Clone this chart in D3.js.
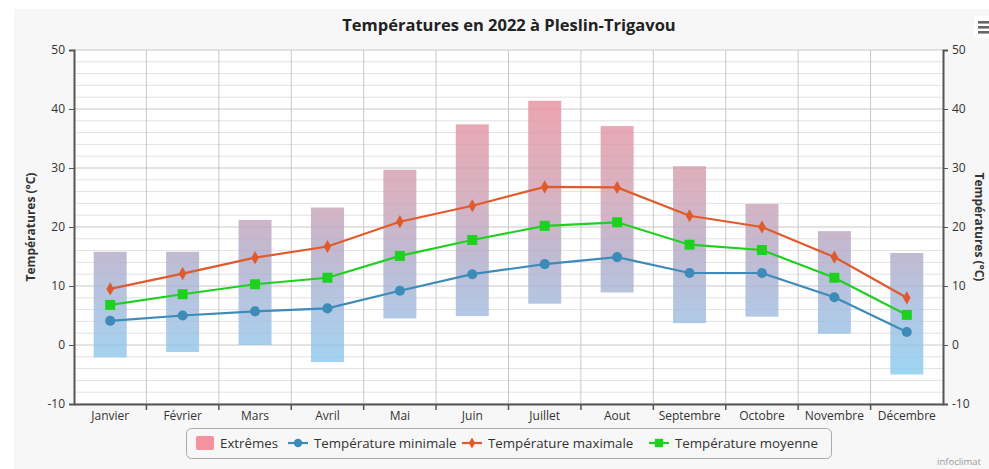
<!DOCTYPE html>
<html>
<head>
<meta charset="utf-8">
<script src="https://cdn.jsdelivr.net/npm/d3@7"></script>
<style>
  body { margin: 0; background: #fff; }
  text { font-family: "Open Sans", "DejaVu Sans", sans-serif; }
</style>
</head>
<body>
<script>
// Data
const months = ["Janvier", "Février", "Mars", "Avril", "Mai", "Juin", "Juillet", "Aout", "Septembre", "Octobre", "Novembre", "Décembre"];
const extremeMax = [15.8, 15.8, 21.2, 23.3, 29.7, 37.4, 41.4, 37.1, 30.3, 23.9, 19.3, 15.6];
const extremeMin = [-2.1, -1.2, 0.0, -2.9, 4.5, 4.9, 7.0, 8.9, 3.7, 4.8, 1.9, -5.0];
const tempMin = [4.1, 5.0, 5.7, 6.2, 9.2, 12.0, 13.7, 14.9, 12.2, 12.2, 8.1, 2.2];
const tempMax = [9.5, 12.1, 14.8, 16.7, 20.9, 23.6, 26.8, 26.7, 21.9, 20.0, 14.9, 8.0];
const tempMoy = [6.8, 8.6, 10.3, 11.4, 15.1, 17.8, 20.2, 20.8, 17.0, 16.1, 11.4, 5.1];
const yTicks = [-10, 0, 10, 20, 30, 40, 50];

const W = 989, H = 469;
const margin = { top: 50, right: 46, bottom: 65, left: 74 };

const svg = d3.select("body").append("svg")
    .attr("width", W)
    .attr("height", H);

// chart background
svg.append("rect").attr("x", 14).attr("y", 9).attr("width", W - 14).attr("height", H - 9)
    .attr("fill", "#f7f7f7");

const x = d3.scaleBand()
    .domain(months)
    .range([margin.left, W - margin.right]);

const y = d3.scaleLinear()
    .domain([-10, 50])
    .range([H - margin.bottom, margin.top]);

// plot area
svg.append("rect")
    .attr("x", margin.left).attr("y", margin.top)
    .attr("width", x.range()[1] - margin.left)
    .attr("height", y(-10) - y(50))
    .attr("fill", "#fff");

// gradient for extremes, tied to temperature
const defs = svg.append("defs");
const grad = defs.append("linearGradient")
    .attr("id", "extGrad")
    .attr("gradientUnits", "userSpaceOnUse")
    .attr("x1", 0).attr("x2", 0)
    .attr("y1", y(42)).attr("y2", y(-5));
grad.append("stop").attr("offset", 0).attr("stop-color", "#e8909e");
grad.append("stop").attr("offset", 0.35).attr("stop-color", "#d0a2b4");
grad.append("stop").attr("offset", 0.55).attr("stop-color", "#b4aac6");
grad.append("stop").attr("offset", 0.75).attr("stop-color", "#a4badc");
grad.append("stop").attr("offset", 1).attr("stop-color", "#88ccf0");

// horizontal grid (minor every 2, major every 10)
const minor = d3.range(-10, 51, 2);
svg.append("g").selectAll("line")
    .data(minor)
    .join("line")
    .attr("x1", margin.left).attr("x2", x.range()[1])
    .attr("y1", d => y(d)).attr("y2", d => y(d))
    .attr("stroke", d => d % 10 === 0 ? "#c8c8c8" : "#e2e2e2")
    .attr("stroke-width", 1);

// vertical grid at category boundaries
svg.append("g").selectAll("line")
    .data(months.slice(1))
    .join("line")
    .attr("x1", d => x(d)).attr("x2", d => x(d))
    .attr("y1", y(50)).attr("y2", y(-10))
    .attr("stroke", "#c8c8c8");

// extremes bars
const barW = 33;
svg.append("g").selectAll("rect")
    .data(months)
    .join("rect")
    .attr("x", d => x(d) + x.bandwidth() / 2 - barW / 2)
    .attr("width", barW)
    .attr("y", (d, i) => y(extremeMax[i]))
    .attr("height", (d, i) => y(extremeMin[i]) - y(extremeMax[i]))
    .attr("fill", "url(#extGrad)")
    .attr("opacity", 0.82);

// axes
const axisColor = "#555";
const fmt = d => String(d);
const yLeft = svg.append("g")
    .attr("transform", `translate(${margin.left},0)`)
    .call(d3.axisLeft(y).tickValues(yTicks).tickFormat(fmt).tickSize(5).tickPadding(4));
const yRight = svg.append("g")
    .attr("transform", `translate(${x.range()[1]},0)`)
    .call(d3.axisRight(y).tickValues(yTicks).tickFormat(fmt).tickSize(5).tickPadding(4));
[yLeft, yRight].forEach(a => {
    a.select(".domain").attr("stroke", axisColor).attr("stroke-width", 2);
    a.selectAll(".tick line").attr("stroke", axisColor);
    a.selectAll(".tick text").attr("font-size", 12).attr("fill", "#333")
        .style("font-family", "'Open Sans', sans-serif");
});

const xAxis = svg.append("g")
    .attr("transform", `translate(0,${y(-10)})`)
    .call(d3.axisBottom(x).tickSize(0).tickPadding(7));
xAxis.select(".domain").attr("stroke", axisColor).attr("stroke-width", 2);
xAxis.selectAll(".tick text").attr("font-size", 12).attr("fill", "#333")
    .style("font-family", "'Open Sans', sans-serif");
svg.append("g").selectAll("line")
    .data(months.slice(1))
    .join("line")
    .attr("x1", d => x(d)).attr("x2", d => x(d))
    .attr("y1", y(-10)).attr("y2", y(-10) + 6)
    .attr("stroke", axisColor).attr("stroke-width", 1.5);

// series lines
const cx = d => x(d) + x.bandwidth() / 2;
const series = [
    { name: "Température minimale", values: tempMin, color: "#3d8bb9", symbol: d3.symbolCircle, size: 80 },
    { name: "Température maximale", values: tempMax, color: "#e05a2b", symbol: d3.symbolDiamond, size: 50 },
    { name: "Température moyenne", values: tempMoy, color: "#1fd11f", symbol: d3.symbolSquare, size: 100 }
];
const line = d3.line().x(d => cx(d.m)).y(d => y(d.v));

series.forEach(s => {
    const pts = months.map((m, i) => ({ m: m, v: s.values[i] }));
    svg.append("path")
        .datum(pts)
        .attr("d", line)
        .attr("fill", "none")
        .attr("stroke", s.color)
        .attr("stroke-width", 2.2);
    svg.append("g").selectAll("path")
        .data(pts)
        .join("path")
        .attr("transform", d => `translate(${cx(d.m)},${y(d.v)})`)
        .attr("d", d3.symbol().type(s.symbol).size(s.size))
        .attr("fill", s.color);
});

// title
svg.append("text")
    .attr("x", 509).attr("y", 31)
    .attr("text-anchor", "middle")
    .attr("font-size", 16.5).attr("font-weight", "bold").attr("fill", "#222")
    .text("Températures en 2022 à Pleslin-Trigavou");

// axis titles
svg.append("text")
    .attr("transform", `translate(35,${y(20)}) rotate(-90)`)
    .attr("text-anchor", "middle")
    .attr("font-size", 12).attr("font-weight", "bold").attr("fill", "#333")
    .text("Températures (°C)");
svg.append("text")
    .attr("transform", `translate(975,${y(20)}) rotate(90)`)
    .attr("text-anchor", "middle")
    .attr("font-size", 12).attr("font-weight", "bold").attr("fill", "#333")
    .text("Températures (°C)");

// menu icon
svg.append("rect").attr("x", 974).attr("y", 16).attr("width", 20).attr("height", 22)
    .attr("rx", 3).attr("fill", "#fff");
[21, 26, 31].forEach(yy => {
    svg.append("rect").attr("x", 978).attr("y", yy).attr("width", 14).attr("height", 2.6)
        .attr("fill", "#666");
});

// legend
const lg = svg.append("g");
lg.append("rect")
    .attr("x", 186.5).attr("y", 428.5).attr("width", 645).attr("height", 30)
    .attr("rx", 5).attr("fill", "#f7f7f7").attr("stroke", "#aaa");
lg.append("rect").attr("x", 196).attr("y", 436).attr("width", 18).attr("height", 14)
    .attr("rx", 2).attr("fill", "#f2939f");
lg.append("text").attr("x", 220).attr("y", 448).attr("font-size", 13.3).attr("fill", "#333").text("Extrêmes");
const legX = [288, 462, 649];
series.forEach((s, i) => {
    const lx = legX[i];
    lg.append("line").attr("x1", lx).attr("x2", lx + 20).attr("y1", 443).attr("y2", 443)
        .attr("stroke", s.color).attr("stroke-width", 2.2);
    lg.append("path").attr("transform", `translate(${lx + 10},443)`)
        .attr("d", d3.symbol().type(s.symbol).size(s.size * 0.7)).attr("fill", s.color);
    lg.append("text").attr("x", lx + 26).attr("y", 448).attr("font-size", 13.3).attr("fill", "#333").text(s.name);
});

// credit
svg.append("text")
    .attr("x", 937).attr("y", 465)
    .attr("font-size", 9.5).attr("fill", "#999")
    .text("infoclimat");
</script>
</body>
</html>
